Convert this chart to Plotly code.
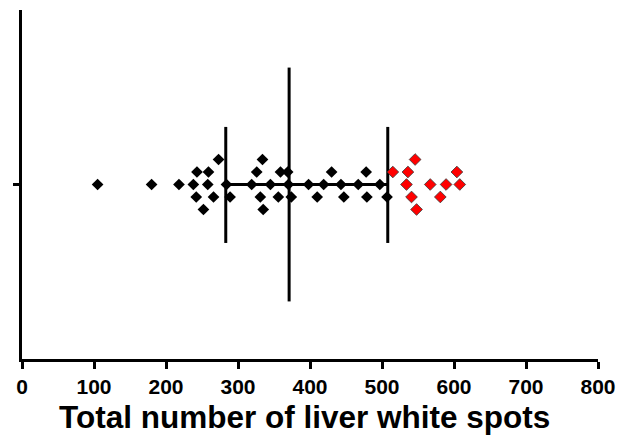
import plotly.graph_objects as go

# Total number of liver white spots per animal, grouped by colour
black_values = [105, 180, 218, 238, 242, 243, 252, 258, 259, 266,
                273, 284, 289, 319, 326, 331, 334, 335, 345, 356,
                359, 369, 370, 374, 398, 410, 419, 430, 443, 447,
                467, 478, 479, 497, 507]
black_lane = [0, 0, 0, 0, -1, 1, -2, 0, 1, -1,
              2, 0, -1, 0, 1, -1, 2, -2, 0, -1,
              1, 1, 0, -1, 0, -1, 0, 1, 0, -1,
              0, 1, -1, 0, -1]

red_values = [515, 534, 536, 541, 546, 548, 567, 581, 589, 604, 608]
red_lane = [1, 0, 1, -1, 2, -2, 0, -1, 0, 1, 0]

# Summary: median with interquartile range
q1 = 283
median = 371
q3 = 508

x_ticks = [0, 100, 200, 300, 400, 500, 600, 700, 800]
x_title = "Total number of liver white spots"

LANE_STEP = 0.0716
FONT = "Liberation Sans"

fig = go.Figure()

# median and quartile bars
fig.add_trace(go.Scatter(
    x=[median, median], y=[-0.67, 0.67], mode="lines",
    line=dict(color="black", width=3), hoverinfo="skip", showlegend=False))
for q in (q1, q3):
    fig.add_trace(go.Scatter(
        x=[q, q], y=[-0.335, 0.33], mode="lines",
        line=dict(color="black", width=3), hoverinfo="skip", showlegend=False))
fig.add_trace(go.Scatter(
    x=[q1, q3], y=[0, 0], mode="lines",
    line=dict(color="black", width=3), hoverinfo="skip", showlegend=False))

fig.add_trace(go.Scatter(
    x=black_values, y=[l * LANE_STEP for l in black_lane], mode="markers",
    marker=dict(symbol="diamond", size=9, color="black",
                line=dict(width=0)),
    showlegend=False))
fig.add_trace(go.Scatter(
    x=red_values, y=[l * LANE_STEP for l in red_lane], mode="markers",
    marker=dict(symbol="diamond", size=9, color="#ff0000",
                line=dict(width=0.8, color="#333333")),
    showlegend=False))

fig.update_layout(
    template="none",
    width=620, height=437,
    margin=dict(l=21.5, r=22, t=10, b=78),
    plot_bgcolor="white", paper_bgcolor="white",
    font=dict(family=FONT, color="black"),
    xaxis=dict(
        range=[0, 800], tickvals=x_ticks,
        ticks="outside", ticklen=7,
        tickwidth=2.5, tickcolor="black", showline=True, linewidth=2.5,
        linecolor="black", showgrid=False, zeroline=False,
        tickfont=dict(size=21, family=FONT, weight="bold", color="black"),
    ),
    yaxis=dict(
        range=[-1, 1], tickvals=[0], ticks="outside", ticklen=6,
        tickwidth=2.5, tickcolor="black", showticklabels=False,
        showline=True, linewidth=3, linecolor="black",
        showgrid=False, zeroline=False,
    ),
    annotations=[dict(
        text=x_title, xref="paper", yref="paper", x=0.49, y=-0.166,
        xanchor="center", yanchor="middle", showarrow=False,
        font=dict(size=31.5, family=FONT, weight="bold", color="black"),
    )],
)

fig.write_html("out.html")
